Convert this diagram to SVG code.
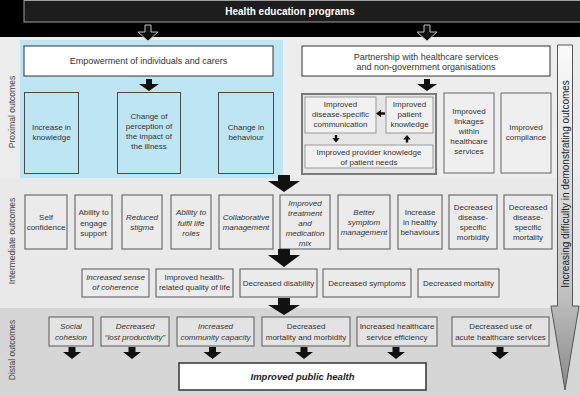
<svg xmlns="http://www.w3.org/2000/svg" width="580" height="396" viewBox="0 0 580 396">
<defs>
<linearGradient id="vg" gradientUnits="userSpaceOnUse" x1="0" y1="45" x2="0" y2="390">
<stop offset="0" stop-color="#fbfbfb"/>
<stop offset="0.7" stop-color="#c4c4c4"/>
<stop offset="1" stop-color="#8a8a8a"/>
</linearGradient>
<style>
.t{font-family:"Liberation Sans",Arial,sans-serif;font-size:8px;fill:#333;text-anchor:middle}
.i{font-style:italic}
.m{font-size:9px}
.lab{font-family:"Liberation Sans",Arial,sans-serif;font-size:8.5px;fill:#444;text-anchor:middle}
.bx{fill:none;stroke:#4a4a4a;stroke-width:1}
.gb{fill:#efefef;stroke:#666;stroke-width:1}
.ib{fill:#f1f1f1;stroke:#999;stroke-width:1}
.ib2{fill:#ebebeb;stroke:#6e6e6e;stroke-width:1.2}
.db{fill:#e3e3e3;stroke:#6e6e6e;stroke-width:1.2}
.wb{fill:#fff;stroke:#333;stroke-width:1}
.ar{fill:#111;stroke:none}
.ha{fill:#111;stroke:#c0c0c0;stroke-width:1}
</style>
</defs>

<!-- backgrounds -->
<rect x="0" y="0" width="580" height="37" fill="#000"/>
<rect x="0" y="37" width="580" height="141" fill="#ededed"/>
<rect x="0" y="178" width="580" height="130" fill="#e9e9e9"/>
<rect x="0" y="308" width="580" height="88" fill="#d6d6d6"/>
<rect x="20" y="40" width="263" height="138" fill="#bee5f3"/>

<!-- side labels -->
<text class="lab" transform="translate(12,112) rotate(-90)" y="3">Proximal outcomes</text>
<text class="lab" transform="translate(12,241) rotate(-90)" y="3">Intermediate outcomes</text>
<text class="lab" transform="translate(12,350) rotate(-90)" y="3">Distal outcomes</text>

<g id="header">
<rect x="24" y="0.5" width="560" height="21.5" fill="#1d1d1d" stroke="#a0a0a0"/>
<text x="290" y="14.5" font-family="Liberation Sans, Arial, sans-serif" font-size="10" font-weight="bold" fill="#fff" text-anchor="middle">Health education programs</text>
</g>

<g id="difficulty">
<path d="M557.5,45 H572.5 V306 H579 L565,390 L551,306 H557.5 Z" fill="url(#vg)" stroke="#555" stroke-width="1"/>
<text transform="translate(565,184) rotate(-90)" y="3.5" font-family="Liberation Sans, Arial, sans-serif" font-size="10" fill="#222" text-anchor="middle">Increasing difficulty in demonstrating outcomes</text>
</g>

<g id="empowerment">
<rect class="wb" x="24" y="46" width="249" height="30"/>
<text class="t m" x="148.5" y="64">Empowerment of individuals and carers</text>
</g>
<g id="partnership">
<rect class="wb" x="302" y="46" width="248" height="30"/>
<text class="t m" x="426" y="59.5">Partnership with healthcare services</text>
<text class="t m" x="426" y="70">and non-government organisations</text>
</g>

<g id="knowledge">
<rect class="bx" x="24.5" y="92.5" width="54" height="81"/>
<text class="t" x="51.5" y="130">Increase in</text>
<text class="t" x="51.5" y="140">knowledge</text>
</g>
<g id="perception">
<rect class="bx" x="117.5" y="92.5" width="63" height="81"/>
<text class="t" x="149" y="118.5">Change of</text>
<text class="t" x="149" y="128.5">perception of</text>
<text class="t" x="149" y="138.5">the impact of</text>
<text class="t" x="149" y="148.5">the illness</text>
</g>
<g id="behaviour">
<rect class="bx" x="218.5" y="92.5" width="55" height="81"/>
<text class="t" x="246" y="130">Change in</text>
<text class="t" x="246" y="140">behaviour</text>
</g>

<g id="partnership-group">
<rect x="302" y="94" width="134" height="80" fill="#e6e6e6" stroke="#7a7a7a" stroke-width="2"/>
</g>
<g id="communication">
<rect class="ib" x="305" y="97" width="71" height="36"/>
<text class="t" x="340.5" y="107">Improved</text>
<text class="t" x="340.5" y="117">disease-specific</text>
<text class="t" x="340.5" y="127">communication</text>
</g>
<g id="patient-knowledge">
<rect class="ib" x="386" y="97" width="47" height="36"/>
<text class="t" x="409.5" y="107">Improved</text>
<text class="t" x="409.5" y="117">patient</text>
<text class="t" x="409.5" y="127">knowledge</text>
</g>
<g id="provider-knowledge">
<rect class="ib" x="305" y="145" width="128" height="23"/>
<text class="t" x="369" y="155">Improved provider knowledge</text>
<text class="t" x="369" y="165">of patient needs</text>
</g>
<g id="linkages">
<rect class="gb" x="444" y="93" width="50" height="80"/>
<text class="t" x="469" y="114">Improved</text>
<text class="t" x="469" y="124">linkages</text>
<text class="t" x="469" y="134">within</text>
<text class="t" x="469" y="144">healthcare</text>
<text class="t" x="469" y="154">services</text>
</g>
<g id="compliance">
<rect class="gb" x="501" y="93" width="50" height="80"/>
<text class="t" x="526" y="130">Improved</text>
<text class="t" x="526" y="140">compliance</text>
</g>

<!-- intermediate row 1 -->
<g id="self-confidence">
<rect class="ib2" x="25" y="195" width="42" height="54"/>
<text class="t" x="46" y="220">Self</text>
<text class="t" x="46" y="230">confidence</text>
</g>
<g id="engage-support">
<rect class="ib2" x="75" y="195" width="37" height="54"/>
<text class="t" x="93.5" y="215">Ability to</text>
<text class="t" x="93.5" y="225.5">engage</text>
<text class="t" x="93.5" y="236">support</text>
</g>
<g id="reduced-stigma">
<rect class="ib2" x="122" y="195" width="40" height="54"/>
<text class="t i" x="142" y="220">Reduced</text>
<text class="t i" x="142" y="230">stigma</text>
</g>
<g id="life-roles">
<rect class="ib2" x="171" y="195" width="40" height="54"/>
<text class="t i" x="191" y="215">Ability to</text>
<text class="t i" x="191" y="225.5">fulfil life</text>
<text class="t i" x="191" y="236">roles</text>
</g>
<g id="collaborative">
<rect class="ib2" x="219" y="195" width="54" height="54"/>
<text class="t i" x="246" y="220">Collaborative</text>
<text class="t i" x="246" y="230">management</text>
</g>
<g id="treatment">
<rect class="ib2" x="280" y="195" width="50" height="54"/>
<text class="t i" x="305" y="205.5">Improved</text>
<text class="t i" x="305" y="215.5">treatment</text>
<text class="t i" x="305" y="225.5">and</text>
<text class="t i" x="305" y="235.5">medication</text>
<text class="t i" x="305" y="245.5">mix</text>
</g>
<g id="symptom-management">
<rect class="ib2" x="338" y="195" width="52" height="54"/>
<text class="t i" x="364" y="215">Better</text>
<text class="t i" x="364" y="225">symptom</text>
<text class="t i" x="364" y="235">management</text>
</g>
<g id="healthy-behaviours">
<rect class="ib2" x="398" y="195" width="44" height="54"/>
<text class="t" x="420" y="215">Increase</text>
<text class="t" x="420" y="225">in healthy</text>
<text class="t" x="420" y="235">behaviours</text>
</g>
<g id="morbidity">
<rect class="ib2" x="449" y="195" width="48" height="54"/>
<text class="t" x="473" y="210">Decreased</text>
<text class="t" x="473" y="220">disease-</text>
<text class="t" x="473" y="230">specific</text>
<text class="t" x="473" y="240">morbidity</text>
</g>
<g id="mortality-specific">
<rect class="ib2" x="504" y="195" width="48" height="54"/>
<text class="t" x="528" y="210">Decreased</text>
<text class="t" x="528" y="220">disease-</text>
<text class="t" x="528" y="230">specific</text>
<text class="t" x="528" y="240">mortality</text>
</g>

<!-- intermediate row 2 -->
<g id="coherence">
<rect class="ib2" x="82" y="269" width="67" height="28"/>
<text class="t i" x="115.5" y="280">Increased sense</text>
<text class="t i" x="115.5" y="290">of coherence</text>
</g>
<g id="quality-of-life">
<rect class="ib2" x="156" y="269" width="77" height="28"/>
<text class="t" x="194.5" y="280">Improved health-</text>
<text class="t" x="194.5" y="290">related quality of life</text>
</g>
<g id="disability">
<rect class="ib2" x="240" y="269" width="77" height="28"/>
<text class="t" x="278.5" y="286">Decreased disability</text>
</g>
<g id="symptoms">
<rect class="ib2" x="323" y="269" width="88" height="28"/>
<text class="t" x="367" y="286">Decreased symptoms</text>
</g>
<g id="mortality">
<rect class="ib2" x="418" y="269" width="81" height="28"/>
<text class="t" x="458.5" y="286">Decreased mortality</text>
</g>

<!-- distal -->
<g id="social-cohesion">
<rect class="db" x="49" y="317" width="44" height="29"/>
<text class="t i" x="71" y="329">Social</text>
<text class="t i" x="71" y="339.5">cohesion</text>
</g>
<g id="lost-productivity">
<rect class="db" x="101" y="317" width="68" height="29"/>
<text class="t i" x="135" y="329">Decreased</text>
<text class="t i" x="135" y="339.5">“lost productivity”</text>
</g>
<g id="community-capacity">
<rect class="db" x="177" y="317" width="77" height="29"/>
<text class="t i" x="215.5" y="329">Increased</text>
<text class="t i" x="215.5" y="339.5">community capacity</text>
</g>
<g id="mortality-morbidity">
<rect class="db" x="262" y="317" width="88" height="29"/>
<text class="t" x="306" y="329">Decreased</text>
<text class="t" x="306" y="339.5">mortality and morbidity</text>
</g>
<g id="service-efficiency">
<rect class="db" x="357" y="317" width="80" height="29"/>
<text class="t" x="397" y="329">Increased healthcare</text>
<text class="t" x="397" y="339.5">service efficiency</text>
</g>
<g id="acute-services">
<rect class="db" x="452" y="317" width="97" height="29"/>
<text class="t" x="500.5" y="329">Decreased use of</text>
<text class="t" x="500.5" y="339.5">acute healthcare services</text>
</g>

<g id="public-health">
<rect x="179" y="363" width="247" height="27" fill="#fff" stroke="#333" stroke-width="1.5"/>
<text x="302.5" y="380" font-family="Liberation Sans, Arial, sans-serif" font-size="9.5" font-weight="bold" font-style="italic" fill="#222" text-anchor="middle">Improved public health</text>
</g>

<g id="connectors">
<path class="ha" d="M145,25 h6 v7 h7 l-10,9 l-10,-9 h7 z"/>
<path class="ha" d="M424,25 h6 v7 h7 l-10,9 l-10,-9 h7 z"/>
<path class="ar" d="M146,79 h6 v5 h7 l-10,7 l-10,-7 h7 z"/>
<path class="ar" d="M424,79 h6 v5 h7 l-10,7 l-10,-7 h7 z"/>
<path class="ar" d="M385,112.3 h-4 v-2.5 l-5,3.7 l5,3.7 v-2.5 h4 z"/>
<path class="ar" d="M334.8,135 h2.4 v3 h2.6 l-3.8,4.5 l-3.8,-4.5 h2.6 z"/>
<path class="ar" d="M407,135 l3.8,4.5 h-2.6 v3 h-2.4 v-3 h-2.6 z"/>
<path class="ar" d="M278,175 h12 v6 h10 l-16,11 l-16,-11 h10 z"/>
<path class="ar" d="M278,249 h12 v6 h10 l-16,12 l-16,-12 h10 z"/>
<path class="ar" d="M278,298 h12 v7 h10 l-16,10 l-16,-10 h10 z"/>
<path class="ar" d="M68.5,347 h7 v5 h5.5 l-9,7 l-9,-7 h5.5 z"/>
<path class="ar" d="M128.5,347 h7 v5 h5.5 l-9,7 l-9,-7 h5.5 z"/>
<path class="ar" d="M209,347 h7 v5 h5.5 l-9,7 l-9,-7 h5.5 z"/>
<path class="ar" d="M300.5,347 h7 v5 h5.5 l-9,7 l-9,-7 h5.5 z"/>
<path class="ar" d="M392.5,347 h7 v5 h5.5 l-9,7 l-9,-7 h5.5 z"/>
<path class="ar" d="M496.5,347 h7 v5 h5.5 l-9,7 l-9,-7 h5.5 z"/>
</g>
</svg>
